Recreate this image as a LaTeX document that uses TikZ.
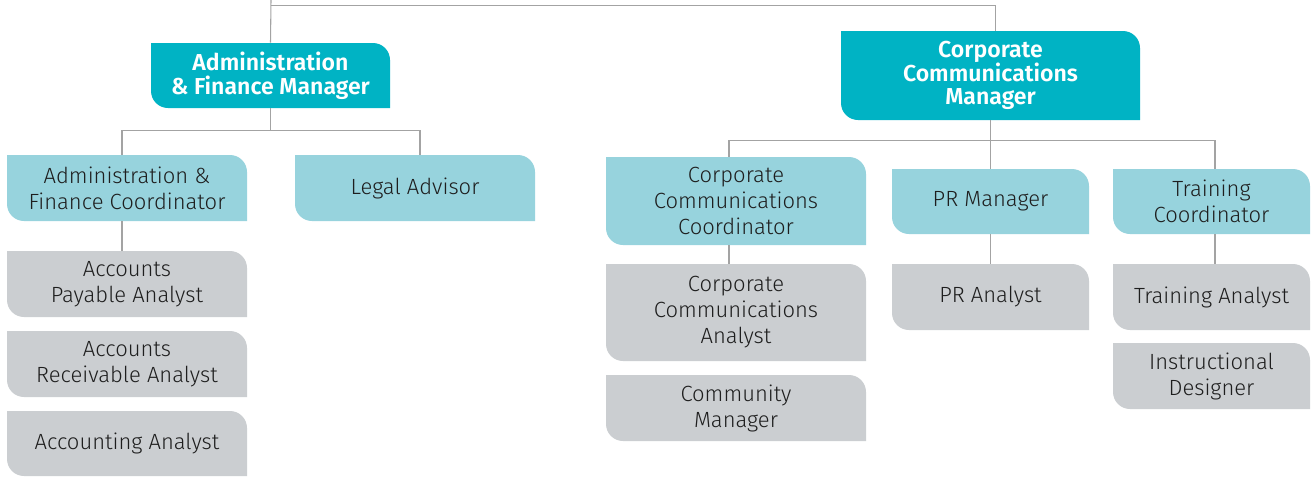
\documentclass[tikz,border=0pt]{standalone}
\usepackage{fontspec}
\setmainfont{Fira Sans}[UprightFont={* Light}, BoldFont={* SemiBold}]
\definecolor{cteal}{HTML}{00B3C4}
\definecolor{clight}{HTML}{97D3DD}
\definecolor{cgray}{HTML}{CBCED1}
\definecolor{cline}{HTML}{A3A3A3}
\definecolor{ctext}{HTML}{1E1E1E}
\tikzset{
  boxtext/.style={inner sep=0pt, align=center, text=ctext,
    font=\fontsize{16.5}{19.5}\selectfont},
  headtext/.style={inner sep=0pt, align=center, text=white,
    font=\bfseries\fontsize{17.3}{17.8}\selectfont},
  link/.style={draw=cline, line width=0.8pt},
}
% #1 name, #2 fill colour, #3 text style, #4 x1, #5 y1, #6 x2, #7 y2, #8 text
\newcommand\orgbox[8]{%
  \fill[#2] (#4,#5) -- ({#6-17},#5) .. controls ({#6-7.6},#5) and (#6,{#5+7.6}) .. (#6,{#5+17})
    -- (#6,#7) -- ({#4+17},#7) .. controls ({#4+7.6},#7) and (#4,{#7-7.6}) .. (#4,{#7-17}) -- cycle;
  \node[#3, minimum width={(#6-#4)*0.75pt}, minimum height={(#7-#5)*0.75pt}]
    (#1) at ({(#4+#6)/2},{(#5+#7)/2}) {#8};
}
\begin{document}
\begin{tikzpicture}[x=0.75pt,y=-0.75pt]
\useasboundingbox (0,0) rectangle (1316,476);
% managers
\orgbox{afm}{cteal}{headtext}{151}{43}{390}{108}{Administration\\\& Finance Manager}
\orgbox{ccm}{cteal}{headtext}{841}{31}{1140}{120}{Corporate\\Communications\\Manager}
% coordinators
\orgbox{afc}{clight}{boxtext}{7}{155}{247}{221}{Administration \&\\Finance Coordinator}
\orgbox{legal}{clight}{boxtext}{295}{155}{535}{221}{Legal Advisor}
\orgbox{ccc}{clight}{boxtext}{606}{157}{866}{245}{Corporate\\Communications\\Coordinator}
\orgbox{prm}{clight}{boxtext}{892}{169}{1089}{234}{PR Manager}
\orgbox{trc}{clight}{boxtext}{1113}{169}{1310}{234}{Training\\Coordinator}
% analysts
\orgbox{apa}{cgray}{boxtext}{7}{251}{247}{317}{Accounts\\Payable Analyst}
\orgbox{ara}{cgray}{boxtext}{7}{331}{247}{397}{Accounts\\Receivable Analyst}
\orgbox{aca}{cgray}{boxtext}{7}{411}{247}{476}{Accounting Analyst}
\orgbox{cca}{cgray}{boxtext}{606}{264}{866}{361}{Corporate\\Communications\\Analyst}
\orgbox{com}{cgray}{boxtext}{606}{375}{866}{441}{Community\\Manager}
\orgbox{pra}{cgray}{boxtext}{892}{264}{1089}{330}{PR Analyst}
\orgbox{tra}{cgray}{boxtext}{1113}{264}{1310}{330}{Training Analyst}
\orgbox{ind}{cgray}{boxtext}{1113}{343}{1310}{409}{Instructional\\Designer}
% connectors
\coordinate (top) at (271,0);
\draw[link] (top) -- (afm.north);
\draw[link] (afm.north) ++(0,-37) -| ([xshift=3.4pt]ccm.north);
\draw[link] (afm.south) -- ++(0,22) -| ([xshift=-3.75pt]afc.north);
\draw[link] (afm.south) ++(0,22) -| ([xshift=3.75pt]legal.north);
\draw[link] ([xshift=-3.75pt]afc.south) -- ([xshift=-3.75pt]apa.north);
\draw[link] (ccm.south) -- ++(0,20) -| ([xshift=-5.25pt]ccc.north);
\draw[link] (ccm.south) ++(0,20) -| (prm.north);
\draw[link] (ccm.south) ++(0,20) -| ([xshift=2.6pt]trc.north);
\draw[link] ([xshift=-5.25pt]ccc.south) -- ([xshift=-5.25pt]cca.north);
\draw[link] (prm.south) -- (pra.north);
\draw[link] ([xshift=2.6pt]trc.south) -- ([xshift=2.6pt]tra.north);
\end{tikzpicture}
\end{document}
